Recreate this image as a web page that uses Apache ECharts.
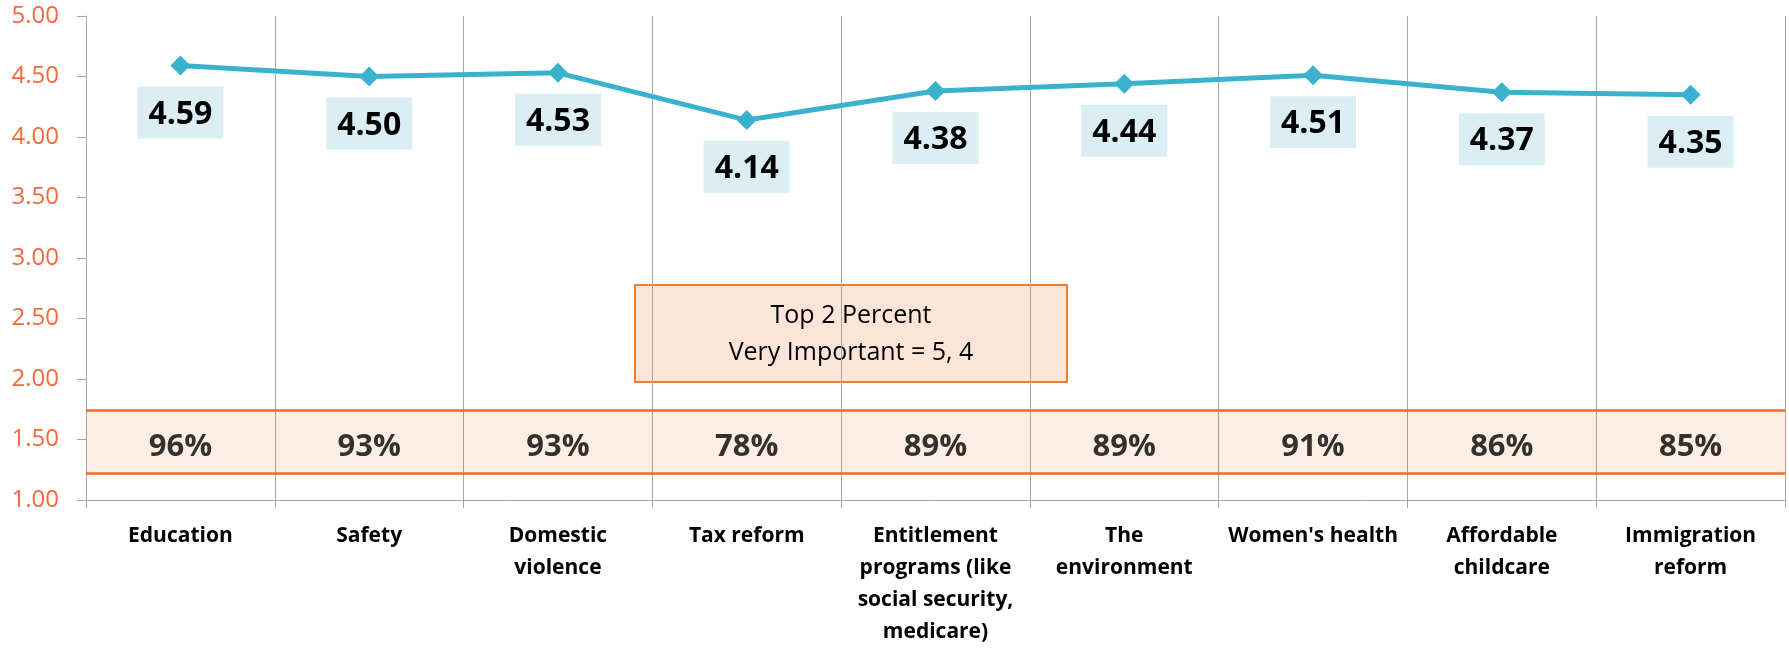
<!DOCTYPE html>
<html>
<head>
<meta charset="utf-8">
<script src="https://cdn.jsdelivr.net/npm/echarts@6/dist/echarts.min.js"></script>
<style>
  html, body { margin: 0; padding: 0; background: #fff; }
  #chart { width: 1789px; height: 648px; }
</style>
</head>
<body>
<div id="chart"></div>
<script>
'use strict';

var categories = ['Education', 'Safety', 'Domestic\nviolence', 'Tax reform',
    'Entitlement\nprograms (like\nsocial security,\nmedicare)', 'The\nenvironment',
    "Women's health", 'Affordable\nchildcare', 'Immigration\nreform'];
var meanScores = [4.59, 4.50, 4.53, 4.14, 4.38, 4.44, 4.51, 4.37, 4.35];
var top2Pct = [96, 93, 93, 78, 89, 89, 91, 86, 85];
var bandRange = [1.215, 1.74];   // band that holds the percent row
var bandMid = 1.44;

var font = '"Open Sans", "Noto Sans", sans-serif';
var my_chart = echarts.init(document.getElementById('chart'));

var pctData = [];
for (var i = 0; i < top2Pct.length; i++) {
    pctData.push([i, bandMid]);
}

my_chart.setOption({
    animation: false,
    textStyle: { fontFamily: font },
    grid: { left: 86, right: 4, top: 16, bottom: 144 },
    xAxis: {
        type: 'category',
        data: categories,
        boundaryGap: true,
        axisLine: { lineStyle: { color: '#a6a6a6', width: 1 } },
        axisTick: { show: true, length: 8, alignWithLabel: false, lineStyle: { color: '#a6a6a6' } },
        axisLabel: {
            interval: 0,
            margin: 20,
            color: '#000',
            fontWeight: 'bold',
            fontSize: 21,
            lineHeight: 32,
            fontFamily: font,
            verticalAlign: 'top'
        },
        splitLine: { show: true, lineStyle: { color: '#a6a6a6', width: 1 } }
    },
    yAxis: {
        type: 'value',
        min: 1,
        max: 5,
        interval: 0.5,
        axisLine: { show: true, lineStyle: { color: '#a6a6a6', width: 1 } },
        axisTick: { show: true, length: 9, lineStyle: { color: '#a6a6a6' } },
        axisLabel: {
            margin: 27,
            color: '#f4683a',
            fontSize: 24,
            fontFamily: font,
            formatter: function (v) { return v.toFixed(2); }
        },
        splitLine: { show: false }
    },
    series: [
        {
            name: 'Mean',
            type: 'line',
            data: meanScores,
            symbol: 'diamond',
            symbolSize: 20,
            lineStyle: { color: '#3bb2cd', width: 5 },
            itemStyle: { color: '#3bb2cd' },
            label: {
                show: true,
                position: 'bottom',
                distance: 11,
                color: '#000',
                fontWeight: 'bold',
                fontSize: 32,
                lineHeight: 38,
                backgroundColor: '#daeef3',
                padding: [9, 11, 5, 11],
                formatter: function (p) { return p.value.toFixed(2); }
            },
            markArea: {
                silent: true,
                itemStyle: { color: 'rgba(237,125,49,0.13)' },
                data: [[{ yAxis: bandRange[0] }, { yAxis: bandRange[1] }]]
            },
            markLine: {
                silent: true,
                symbol: 'none',
                label: { show: false },
                lineStyle: { color: '#ed6d22', width: 2.5, type: 'solid' },
                data: [{ yAxis: bandRange[0] }, { yAxis: bandRange[1] }]
            },
            z: 3
        },
        {
            name: 'Top 2',
            type: 'scatter',
            data: pctData,
            symbolSize: 0,
            silent: true,
            label: {
                show: true,
                position: 'inside',
                color: '#000',
                fontWeight: 'bold',
                fontSize: 31,
                formatter: function (p) { return top2Pct[p.dataIndex] + '%'; }
            }
        }
    ],
    graphic: [
        {
            type: 'group',
            left: 634,
            top: 284,
            children: [
                {
                    type: 'rect',
                    shape: { x: 0, y: 0, width: 432, height: 97 },
                    style: { fill: '#fbe5d6', stroke: '#ed7d31', lineWidth: 2 }
                },
                {
                    type: 'text',
                    x: 216,
                    y: 49,
                    style: {
                        text: 'Top 2 Percent\nVery Important = 5, 4',
                        fill: '#000',
                        font: '25px ' + font,
                        lineHeight: 37,
                        align: 'center',
                        verticalAlign: 'middle'
                    }
                }
            ]
        }
    ]
});
</script>
</body>
</html>
